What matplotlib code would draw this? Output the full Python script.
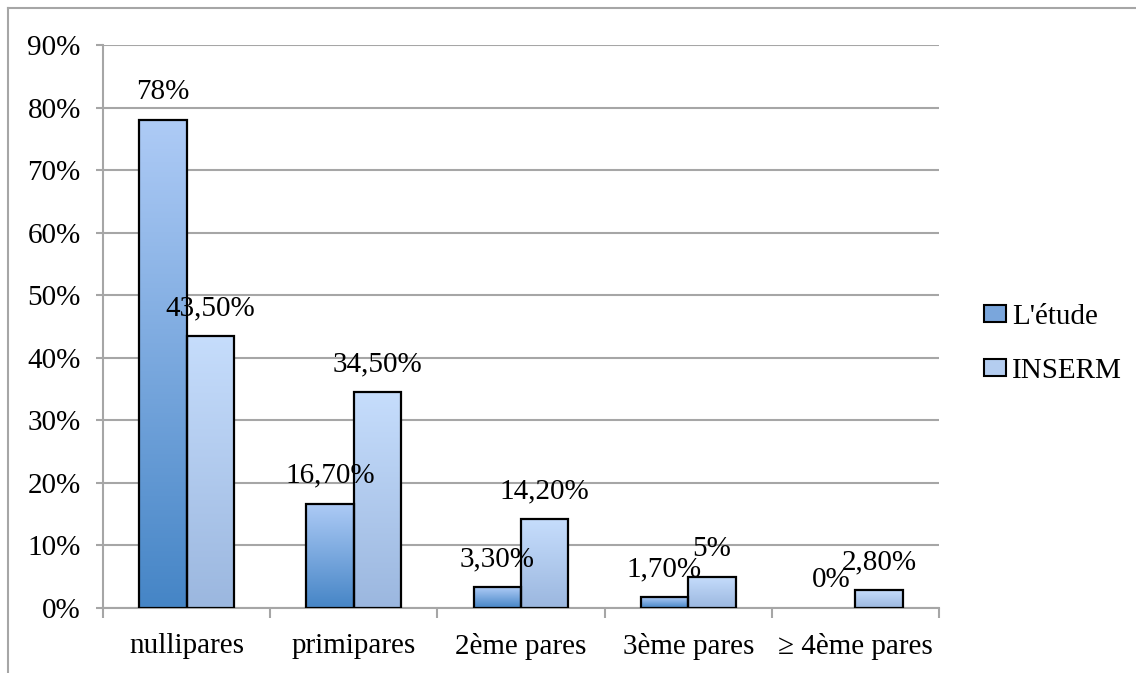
import numpy as np
import matplotlib.pyplot as plt
from matplotlib.colors import LinearSegmentedColormap
from matplotlib.patches import Rectangle
from matplotlib.lines import Line2D

plt.rcParams['font.family'] = ['Liberation Serif', 'DejaVu Serif']
plt.rcParams['font.size'] = 21

# Data
categories = ['nullipares', 'primipares', '2ème pares', '3ème pares', '≥ 4ème pares']
series_names = ["L'étude", 'INSERM']
etude = [78, 16.7, 3.3, 1.7, 0]
inserm = [43.5, 34.5, 14.2, 5, 2.8]
etude_labels = ['78%', '16,70%', '3,30%', '1,70%', '0%']
inserm_labels = ['43,50%', '34,50%', '14,20%', '5%', '2,80%']

# gradient colours (bottom -> top)
etude_cmap = LinearSegmentedColormap.from_list('etude', ['#4585c6', '#aecbf6'])
inserm_cmap = LinearSegmentedColormap.from_list('inserm', ['#9bb7df', '#c6ddfc'])

W, H = 1136, 673
fig = plt.figure(figsize=(W / 100, H / 100), dpi=100)
ax = fig.add_axes([103 / W, 1 - 608 / H, 836 / W, 563 / H])

bar_w = 0.284
x = np.arange(len(categories))
grad = np.linspace(0, 1, 256).reshape(-1, 1)


def gradient_bars(xs, vals, cmap):
    for xi, v in zip(xs, vals):
        if v <= 0:
            continue
        ax.imshow(grad, extent=(xi - bar_w / 2, xi + bar_w / 2, 0, v), origin='lower',
                  cmap=cmap, aspect='auto', zorder=2)
        ax.add_patch(Rectangle((xi - bar_w / 2, 0), bar_w, v, fill=False,
                               edgecolor='black', linewidth=1.6, zorder=3))


gradient_bars(x - bar_w / 2, etude, etude_cmap)
gradient_bars(x + bar_w / 2, inserm, inserm_cmap)

# data labels
for xi, v, lab in zip(x - bar_w / 2, etude, etude_labels):
    ax.annotate(lab, (xi, v), xytext=(0, 20), textcoords='offset points',
                ha='center', va='center', zorder=4)
for xi, v, lab in zip(x + bar_w / 2, inserm, inserm_labels):
    ax.annotate(lab, (xi, v), xytext=(0, 20), textcoords='offset points',
                ha='center', va='center', zorder=4)

ax.set_xlim(-0.5, len(categories) - 0.5)
ax.set_ylim(0, 90)
ax.set_yticks(np.arange(0, 91, 10))
ax.set_yticklabels([f'{v}%' for v in range(0, 91, 10)])
ax.set_xticks(x)
ax.set_xticklabels(categories)
ax.set_xticks(np.arange(-0.5, len(categories), 1), minor=True)
ax.yaxis.grid(True, color='#a6a6a6', linewidth=1.5, zorder=0)
ax.set_axisbelow(True)
for s in ['top', 'right']:
    ax.spines[s].set_visible(False)
for s in ['left', 'bottom']:
    ax.spines[s].set_color('#a6a6a6')
    ax.spines[s].set_linewidth(1.5)
ax.tick_params(axis='y', length=5, width=1.5, color='#a6a6a6', pad=11)
ax.tick_params(axis='x', which='major', length=0, pad=18)
ax.tick_params(axis='x', which='minor', length=7, width=1.5, color='#a6a6a6')

handles = [Rectangle((0, 0), 1, 1, facecolor='#7aa6dc', edgecolor='black', linewidth=1.5),
           Rectangle((0, 0), 1, 1, facecolor='#b4cdf0', edgecolor='black', linewidth=1.5)]
fig.legend(handles, series_names, loc='center left', bbox_to_anchor=(984 / W, 1 - 344 / H),
           frameon=False, handlelength=0.75, handleheight=0.5, handletextpad=0.2,
           labelspacing=0.95, borderaxespad=0, borderpad=0)

# outer chart border
fig.add_artist(Line2D([8 / W, 8 / W], [0, 1 - 8 / H], color='#a6a6a6', linewidth=1.5))
fig.add_artist(Line2D([8 / W, 1], [1 - 8 / H, 1 - 8 / H], color='#a6a6a6', linewidth=1.5))

fig.savefig('out.png', dpi=100)
